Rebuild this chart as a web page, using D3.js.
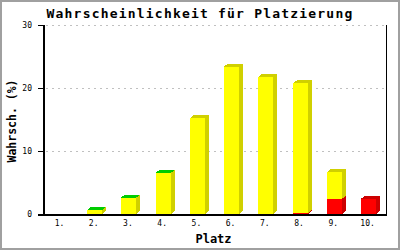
<!DOCTYPE html>
<html><head><meta charset="utf-8">
<script src="https://cdn.jsdelivr.net/npm/d3@7"></script>
<style>body{margin:0;background:#fff}svg{display:block}</style>
</head><body>
<script>
const categories = ["1.","2.","3.","4.","5.","6.","7.","8.","9.","10."];
const red    = [0, 0, 0, 0, 0, 0, 0, 0.15, 2.4, 2.4];
const yellow = [0, 0.63, 2.59, 6.56, 15.24, 23.4, 21.75, 20.6, 4.27, 0];
const green  = [0, 0.02, 0.02, 0.02, 0, 0, 0, 0, 0, 0];
const yTicks = [0, 10, 20, 30];
const title = "Wahrscheinlichkeit für Platzierung";
const xTitle = "Platz";
const yTitle = "Wahrsch. (%)";

const W = 400, H = 250;
const m = {left: 43, right: 386, top: 25, bottom: 214};
const svg = d3.select("body").append("svg").attr("width", W).attr("height", H);
svg.append("rect").attr("x",1).attr("y",1).attr("width",W-2).attr("height",H-2)
  .attr("fill","#fff").attr("stroke","#a0a0a0").attr("stroke-width",2);

const x = d3.scaleBand().domain(categories).range([m.left, m.right]).paddingInner(0.56).paddingOuter(0.29);
const y = d3.scaleLinear().domain([0, 30]).range([m.bottom, m.top]);

// grid
svg.append("g").selectAll("line").data(yTicks.filter(t => t > 0)).join("line")
  .attr("x1", m.left + 3).attr("x2", m.right).attr("y1", d => Math.round(y(d)) + 0.5).attr("y2", d => Math.round(y(d)) + 0.5)
  .attr("stroke", "#c0c0c0").attr("stroke-dasharray", "2,4");

// bars
const series = [
  {vals: red, front: "#ff0000", side: "#cc0000", top: "#cc0000"},
  {vals: yellow, front: "#ffff00", side: "#d0d000", top: "#d0d000"},
  {vals: green, front: "#00ff00", side: "#00bb00", top: "#00cc00"}
];
const dx = 4, dy = 3;
const gb = svg.append("g").attr("shape-rendering", "crispEdges");
categories.forEach((c, i) => {
  let base = 0;
  const x0 = Math.round(x(c)), bw = Math.round(x.bandwidth()), x1 = x0 + bw;
  series.forEach(s => {
    const v = s.vals[i];
    if (!(v > 0)) return;
    const yb = y(base), yt = y(base + v);
    base += v;
    gb.append("rect").attr("x", x0).attr("y", yt).attr("width", bw).attr("height", yb - yt).attr("fill", s.front);
    gb.append("polygon").attr("points", [[x1, yb], [x1 + dx, yb - dy], [x1 + dx, yt - dy], [x1, yt]].join(" ")).attr("fill", s.side);
    gb.append("polygon").attr("points", [[x0, yt], [x0 + dx, yt - dy], [x1 + dx, yt - dy], [x1, yt]].join(" ")).attr("fill", s.top);
  });
});

// axes
const ax = svg.append("g").attr("stroke", "#000").attr("shape-rendering", "crispEdges");
ax.append("line").attr("x1", m.left - 5).attr("x2", m.right + 1).attr("y1", m.bottom + 0.5).attr("y2", m.bottom + 0.5).attr("stroke-width", 2);
ax.append("line").attr("x1", m.left + 0.5).attr("x2", m.left + 0.5).attr("y1", m.top).attr("y2", m.bottom).attr("stroke-width", 2);
ax.append("line").attr("x1", m.right + 0.5).attr("x2", m.right + 0.5).attr("y1", m.top).attr("y2", m.bottom + 1).attr("stroke-width", 1.5);
ax.selectAll(".t").data(yTicks).join("line")
  .attr("x1", m.left - 5).attr("x2", m.left).attr("y1", d => Math.round(y(d)) + 0.5).attr("y2", d => Math.round(y(d)) + 0.5).attr("stroke-width", 1.5);

const mono = "'DejaVu Sans Mono', monospace";
svg.append("g").selectAll("text").data(yTicks).join("text")
  .attr("x", 32).attr("y", d => y(d) + 3).attr("text-anchor", "end")
  .attr("font-family", mono).attr("font-size", 8).text(d => d);
svg.append("g").selectAll("text").data(categories).join("text")
  .attr("x", d => x(d) + x.bandwidth() / 2 - 1).attr("y", 226).attr("text-anchor", "middle")
  .attr("font-family", mono).attr("font-size", 8).text(d => d);

svg.append("text").attr("x", 200).attr("y", 18).attr("text-anchor", "middle")
  .attr("font-family", mono).attr("font-weight", "bold").attr("font-size", 13).attr("letter-spacing", 1.2).text(title);
svg.append("text").attr("x", 213.5).attr("y", 243).attr("text-anchor", "middle")
  .attr("font-family", mono).attr("font-weight", "bold").attr("font-size", 12).text(xTitle);
svg.append("text").attr("transform", "translate(16,121) rotate(-90)").attr("text-anchor", "middle")
  .attr("font-family", mono).attr("font-weight", "bold").attr("font-size", 11.5).text(yTitle);
</script>
</body></html>
